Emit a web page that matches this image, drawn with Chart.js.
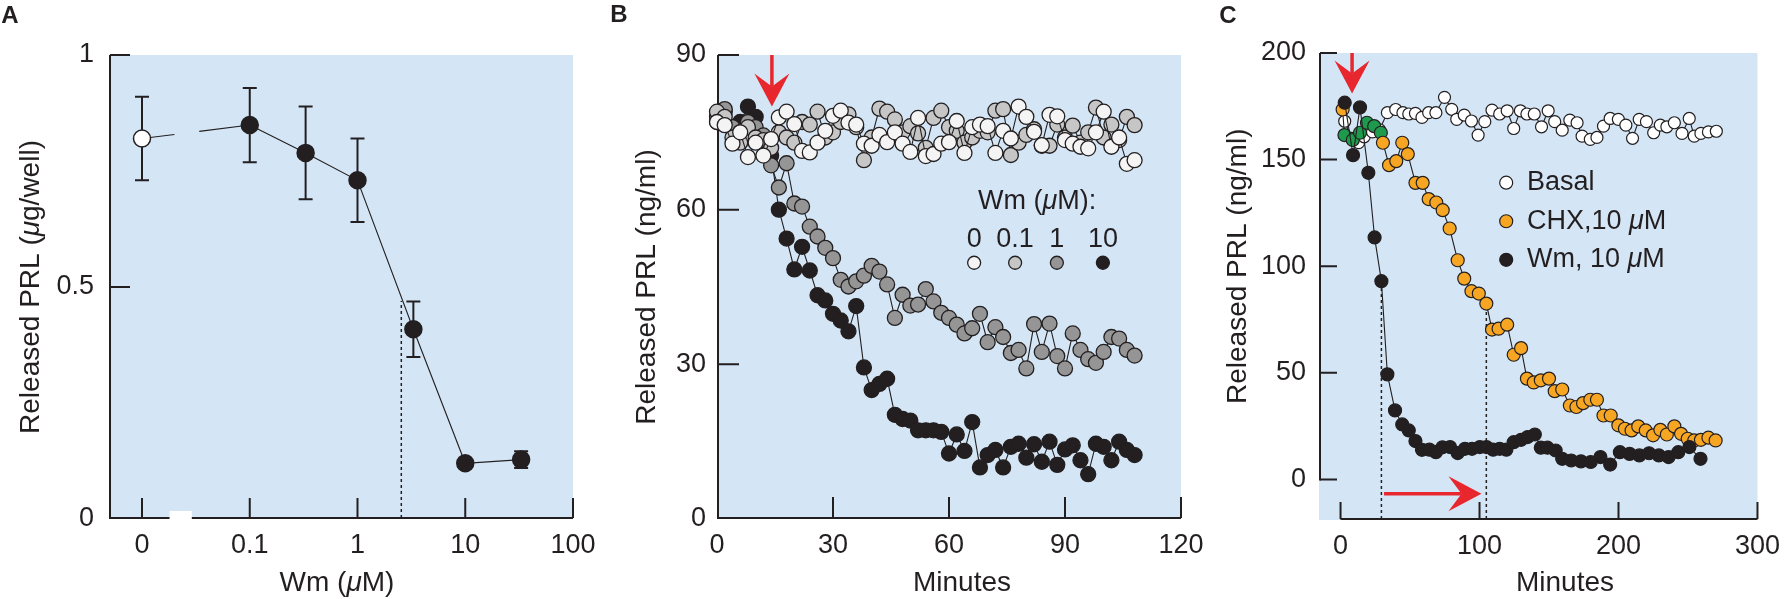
<!DOCTYPE html>
<html>
<head>
<meta charset="utf-8">
<script src="https://cdn.jsdelivr.net/npm/chart.js@4.4.1/dist/chart.umd.min.js"></script>
<style>
  html, body { margin: 0; padding: 0; background: #fff; }
  #wrap { position: relative; width: 1790px; height: 599px; }
  #wrap canvas { position: absolute; left: 0; top: 0; }
</style>
</head>
<body>
<div id="wrap">
  <canvas id="chart-a" width="1790" height="599"></canvas>
  <canvas id="chart-b" width="1790" height="599"></canvas>
  <canvas id="chart-c" width="1790" height="599"></canvas>
</div>
<script>
// --- Panel A: dose response (log axis, "0" dose sits one decade below 0.1) ---
const doseTicksA = [0.01, 0.1, 1, 10, 100];
const doseLabelsA = ['0', '0.1', '1', '10', '100'];
const ctrlDoseA = [0.01];
const ctrlPrlA = [0.82];
const ctrlErrA = [0.09];
const wmDoseA = [0.1, 0.33, 1, 3.3, 10, 33];
const wmPrlA = [0.849, 0.789, 0.73, 0.409, 0.12, 0.128];
const wmErrA = [0.08, 0.10, 0.09, 0.06, 0, 0.018];
const halfDoseA = [2.55];
const halfPrlA = [0.47];

// --- Panel B: time course, four Wm doses ---
const minutesB = [0, 2, 4, 6, 8, 10, 12, 14, 16, 18, 20, 22, 24, 26, 28, 30, 32, 34, 36, 38,
  40, 42, 44, 46, 48, 50, 52, 54, 56, 58, 60, 62, 64, 66, 68, 70, 72, 74, 76, 78,
  80, 82, 84, 86, 88, 90, 92, 94, 96, 98, 100, 102, 104, 106, 108];
const wm0B = [77, 76.4, 72.8, 75, 70.2, 73, 70.5, 73.7, 77.9, 79,
  76.6, 71.4, 71.1, 73, 75.3, 78.2, 79.2, 76.9, 76.5, 72.8,
  72.4, 74.5, 73.1, 75, 72.8, 71.2, 77.8, 70.4, 70.8, 72.8,
  73.1, 77.2, 71, 76, 76.5, 76.2, 71, 75.3, 73.8, 80,
  78, 75.1, 72.5, 78.4, 78.1, 73.5, 72.8, 72.2, 71.9, 75,
  79, 72.2, 74, 68.9, 69.6];
const wm01B = [79, 78, 74, 73, 76, 74, 73.5, 72, 75, 74,
  73, 77, 76.5, 79, 74, 75, 77, 78.5, 76, 69.6,
  74, 79.6, 79, 77.5, 75, 76.2, 74.8, 72, 77.8, 79.2,
  76, 75.3, 73, 74, 75.3, 75, 79.2, 79.5, 70.6, 73,
  74.5, 75.6, 72.4, 72.4, 76.5, 74, 76.3, 73, 75, 79.8,
  74, 76.5, 73.5, 78, 76.4];
const wm1B = [78, 79.5, 76, 75, 77, 76, 74.4, 68.6, 64.3, 69,
  61.2, 60.6, 56.7, 54.8, 52.6, 50.6, 46.4, 45.1, 46.1, 47.2,
  49.1, 48, 45.5, 39, 43.5, 41.4, 41.6, 44.6, 42.2, 40,
  39, 37.7, 36, 37, 39.8, 34.3, 37.2, 35.3, 32.2, 32.8,
  29.2, 37.8, 32.4, 37.9, 31.6, 29.2, 36, 32.8, 31, 30.3,
  32.4, 35.3, 35, 32.8, 31.7];
const wm10B = [77, 79, 76, 77, 80, 78, 74, 70.5, 60, 54.4,
  48.4, 52.8, 48.2, 43.4, 42.4, 39.8, 38.5, 36.4, 41.3, 29.4,
  25, 26.2, 27.2, 20.2, 19.4, 19.1, 17.2, 17.2, 17.2, 16.9,
  12.7, 16.4, 13.2, 18.8, 10, 12.4, 13.4, 10, 14, 14.6,
  11.9, 14.5, 11.1, 15, 10.5, 13.5, 14.3, 11.4, 8.7, 14.6,
  14, 11.4, 15, 13.4, 12.4];
const doseLabelsB = ['0', '0.1', '1', '10'];
const arrowMinB = 14.2;

// --- Panel C: basal vs CHX vs Wm ---
const basalMinC = [3, 8, 13, 17, 23, 28, 33.7, 39.7, 44.9, 49.1, 53.9, 58.6, 63.4, 68.6, 74.8,
  80, 83.6, 89, 94.2, 99, 103.8, 109, 114.5, 119.9, 124.6, 129.4, 134.1, 139.4, 144.6, 149.4,
  154.1, 159.5, 165, 170.2, 173.8, 179.7, 184.5, 189.2, 194, 199.9, 205.3, 210.1, 214.9, 220.1,
  225.3, 230.1, 234.8, 240.2, 245.7, 250.9, 254.5, 259.3, 264.7, 270.4];
const basalC = [168, 160, 158, 160.7, 163, 164, 172, 173.5, 172, 171.4, 171.7, 169.8, 172, 172, 179.2,
  173.6, 168.9, 170.9, 168.1, 161.5, 167.8, 173.2, 171.4, 172.9, 164.6, 172.9, 171.4, 171.4, 165.4, 172.9,
  167.8, 163.8, 168.5, 167.3, 161, 159.5, 160.4, 165.7, 169.3, 168.9, 166.2, 160, 168.9, 167.8,
  162.6, 166.2, 165.4, 167.3, 162.3, 169.3, 161, 162.3, 163, 163.3];
const chxMinC = [1.5, 2.8, 8.8, 14, 19, 24.2, 29, 30.5, 34.9, 40.1, 44.4, 48.4, 53.9, 59.1, 63.4,
  68.9, 73.5, 78.5, 84.3, 89, 94.2, 99.5, 104.9, 109, 113.7, 119.9, 124.6, 129.9, 134.1, 139,
  144.1, 150, 154.1, 159.5, 165, 169.7, 174.5, 179.7, 184.5, 189.2, 194.4, 199.9, 204.6, 209.4,
  214.2, 219.6, 224.9, 230.1, 234.8, 240.2, 245, 249.8, 254.5, 259.3, 264.7, 269.9];
const chxC = [173.5, 161.5, 159.2, 162.6, 167.3, 165.7, 162.6, 157.9, 147.4, 149.3, 157.9, 152.6, 139.1, 139.1, 131.5,
  129.9, 126.3, 117.7, 102.8, 94.2, 88.3, 87.2, 82.5, 70.3, 70.7, 72.6, 58.5, 61.6, 47.3, 45.5,
  46.5, 47.3, 41.4, 42.2, 34.7, 34, 35.8, 37.4, 37.4, 30, 30, 25.4, 23.8, 23,
  24.9, 23, 20.7, 23.3, 21.1, 24.9, 21.4, 19.1, 18.3, 18.6, 19.6, 18.3];
const chxPreIdxC = [1, 2, 3, 4, 5, 6];   // samples taken before the drug went on
const wmMinC = [3, 9, 14, 20, 24.5, 29.4, 33.7, 39.2, 44.4, 49.1, 53.9, 58.6, 63.9, 68.6, 73.3,
  78.8, 84.3, 89.5, 94.6, 100.2, 105, 109.8, 114.5, 119.3, 124.6, 129.9, 134.6, 139.8, 144.1, 148.9,
  154.8, 159.5, 166, 173, 180, 187, 194, 201, 208, 215, 222, 229, 236, 243, 251, 259];
const wmC = [176.7, 152.1, 174.5, 143.8, 113.5, 93, 49.3, 32.4, 25.8, 23, 18, 13.9, 14, 12.8, 15.1,
  15.2, 12.4, 14.4, 14.4, 15.2, 15.2, 14, 14.4, 14, 17.5, 18.6, 19.9, 21.1, 14.9, 14.9,
  13.6, 9.7, 8.9, 8.5, 8.2, 10.5, 7, 12.8, 12, 11.3, 12.3, 11.3, 10.5, 12.8, 15.2, 9.7];
const halfMinC = [29.4, 104.9];
const halfPrlC = [93, 82.5];
const legendNamesC = ['Basal', 'CHX,10 ', 'Wm, 10 '];

// --- look ---
const ink = '#231f20';
const panelBlue = '#d4e6f6';
const arrowRed = '#e8262d';
const fam = '"Liberation Sans", Arial, Helvetica, sans-serif';
Chart.defaults.font.family = fam;
Chart.defaults.color = ink;

const xy = (xs, ys) => xs.map((v, i) => ({ x: v, y: ys[i] }));

function richText(ctx, parts, x, y, size, opts = {}) {
  ctx.save();
  ctx.translate(x, y);
  if (opts.rotate) ctx.rotate(-Math.PI / 2);
  const fonts = parts.map(p => (p[1] ? 'italic ' : '') + (opts.bold ? 'bold ' : '') + size + 'px ' + fam);
  let total = 0;
  const widths = parts.map((p, i) => { ctx.font = fonts[i]; const w = ctx.measureText(p[0]).width; total += w; return w; });
  let cx = opts.left ? 0 : -total / 2;
  ctx.fillStyle = ink;
  ctx.textBaseline = 'middle';
  ctx.textAlign = 'left';
  parts.forEach((p, i) => { ctx.font = fonts[i]; ctx.fillText(p[0], cx, 0); cx += widths[i]; });
  ctx.restore();
}

function drawArrow(ctx, x0, y0, x1, y1) {
  const ang = Math.atan2(y1 - y0, x1 - x0), c = Math.cos(ang), s = Math.sin(ang);
  const head = 33, half = 17.5, notch = 20;
  ctx.save();
  ctx.strokeStyle = arrowRed;
  ctx.fillStyle = arrowRed;
  ctx.lineWidth = 3.5;
  ctx.beginPath();
  ctx.moveTo(x0, y0);
  ctx.lineTo(x1 - notch * c, y1 - notch * s);
  ctx.stroke();
  ctx.beginPath();
  ctx.moveTo(x1, y1);
  ctx.lineTo(x1 - head * c - half * s, y1 - head * s + half * c);
  ctx.lineTo(x1 - notch * c, y1 - notch * s);
  ctx.lineTo(x1 - head * c + half * s, y1 - head * s - half * c);
  ctx.closePath();
  ctx.fill();
  ctx.restore();
}

// background, range-frame axes, inward ticks, drop lines
function framePlugin(spec) {
  return {
    id: 'frame',
    beforeDraw(chart) {
      const { ctx, chartArea: a } = chart;
      ctx.save();
      ctx.fillStyle = panelBlue;
      ctx.fillRect(a.left, a.top, a.right - a.left, a.bottom - a.top);
      ctx.restore();
    },
    beforeDatasetsDraw(chart) {
      const { ctx, chartArea: a, scales: { x, y } } = chart;
      const ax = a.left + 1, ay = a.bottom - 1;
      ctx.save();
      ctx.strokeStyle = ink;
      ctx.lineWidth = 2;
      // y axis line
      ctx.beginPath();
      ctx.moveTo(ax, Math.min(ay + 1, y.getPixelForValue(spec.yLine[0]) + 1));
      ctx.lineTo(ax, y.getPixelForValue(spec.yLine[1]));
      ctx.stroke();
      // x axis line, maybe broken
      const xa = Math.max(a.left, x.getPixelForValue(spec.xLine[0]));
      const xb = x.getPixelForValue(spec.xLine[1]);
      ctx.beginPath();
      if (spec.xBreak) {
        const g0 = x.getPixelForValue(spec.xBreak[0]), g1 = x.getPixelForValue(spec.xBreak[1]);
        ctx.fillStyle = '#ffffff';
        ctx.fillRect(g0, ay - 7, g1 - g0, 10);
        ctx.moveTo(xa, ay); ctx.lineTo(g0, ay);
        ctx.moveTo(g1, ay); ctx.lineTo(xb, ay);
      } else {
        ctx.moveTo(xa, ay); ctx.lineTo(xb, ay);
      }
      ctx.stroke();
      // inward ticks
      ctx.beginPath();
      spec.xTicks.forEach(v => { const px = x.getPixelForValue(v); ctx.moveTo(px, ay); ctx.lineTo(px, ay - spec.tickLen); });
      spec.yTicks.forEach(v => { const py = y.getPixelForValue(v); ctx.moveTo(ax, py); ctx.lineTo(ax + spec.tickLen, py); });
      ctx.stroke();
      // dotted drop lines
      ctx.setLineDash([3, 3]);
      ctx.lineWidth = 1.5;
      ctx.beginPath();
      (spec.dropX || []).forEach((v, i) => {
        const px = x.getPixelForValue(v);
        ctx.moveTo(px, ay);
        ctx.lineTo(px, y.getPixelForValue(spec.dropY[i]));
      });
      ctx.stroke();
      ctx.setLineDash([]);
      if (spec.under) spec.under(chart);
      ctx.restore();
    },
    afterDraw(chart) {
      if (spec.over) spec.over(chart);
    }
  };
}

function baseOptions(pad, yWidth, xHeight, xScale, yScale) {
  return {
    responsive: false,
    animation: false,
    devicePixelRatio: 1,
    events: [],
    layout: { padding: pad },
    plugins: { legend: { display: false }, tooltip: { enabled: false } },
    scales: {
      x: Object.assign({
        grid: { display: false, drawTicks: false },
        border: { display: false },
        afterFit: s => { s.height = xHeight; }
      }, xScale),
      y: Object.assign({
        grid: { display: false, drawTicks: false },
        border: { display: false },
        afterFit: s => { s.width = yWidth; }
      }, yScale)
    }
  };
}

const tickFont = { size: 27 };
const titleSize = 28;
const lineStyle = { showLine: true, borderColor: ink, borderWidth: 1.1, pointBorderColor: ink, clip: false };

// ---------------- Panel A ----------------
new Chart(document.getElementById('chart-a'), {
  type: 'scatter',
  data: {
    datasets: [
      Object.assign({}, lineStyle, { data: xy(ctrlDoseA, ctrlPrlA), showLine: false, pointRadius: 8.5, pointBorderWidth: 1.5, pointBackgroundColor: '#ffffff' }),
      Object.assign({}, lineStyle, { data: xy(wmDoseA, wmPrlA), pointRadius: 8.5, pointBorderWidth: 1.5, pointBackgroundColor: ink })
    ]
  },
  options: baseOptions({ left: 0, right: 1217, top: 55, bottom: 0 }, 109, 80,
    {
      type: 'logarithmic', min: 0.00494, max: 100,
      afterBuildTicks: s => { s.ticks = doseTicksA.map(v => ({ value: v })); },
      ticks: { font: tickFont, padding: 10, autoSkip: false, maxRotation: 0, callback: (v, i) => doseLabelsA[i] }
    },
    {
      min: 0, max: 1,
      afterBuildTicks: s => { s.ticks = [0, 0.5, 1].map(v => ({ value: v })); },
      ticks: { font: tickFont, padding: 15, callback: v => String(v) }
    }),
  plugins: [framePlugin({
    xLine: [0.001, 100], yLine: [0, 1], xBreak: [0.018, 0.029],
    xTicks: doseTicksA, yTicks: [0.5, 1], tickLen: 20,
    dropX: halfDoseA, dropY: halfPrlA,
    under(chart) {
      const { ctx, scales: { x, y } } = chart;
      ctx.strokeStyle = ink;
      ctx.lineWidth = 2;
      const bars = (xs, ys, es) => xs.forEach((v, i) => {
        if (!es[i]) return;
        const px = x.getPixelForValue(v), t = y.getPixelForValue(ys[i] + es[i]), b = y.getPixelForValue(ys[i] - es[i]);
        ctx.beginPath();
        ctx.moveTo(px, t); ctx.lineTo(px, b);
        ctx.moveTo(px - 7, t); ctx.lineTo(px + 7, t);
        ctx.moveTo(px - 7, b); ctx.lineTo(px + 7, b);
        ctx.stroke();
      });
      bars(ctrlDoseA, ctrlPrlA, ctrlErrA);
      bars(wmDoseA, wmPrlA, wmErrA);
      // broken connector from the "0" dose to the first Wm dose
      const p0x = x.getPixelForValue(ctrlDoseA[0]), p0y = y.getPixelForValue(ctrlPrlA[0]);
      const p1x = x.getPixelForValue(wmDoseA[0]), p1y = y.getPixelForValue(wmPrlA[0]);
      const at = px => p0y + (p1y - p0y) * (px - p0x) / (p1x - p0x);
      const g0 = x.getPixelForValue(0.02), g1 = x.getPixelForValue(0.034);
      ctx.lineWidth = 1.1;
      ctx.beginPath();
      ctx.moveTo(p0x, p0y); ctx.lineTo(g0, at(g0));
      ctx.moveTo(g1, at(g1)); ctx.lineTo(p1x, p1y);
      ctx.stroke();
    },
    over(chart) {
      const { ctx, chartArea: a } = chart;
      richText(ctx, [['A', false]], 10, 16, 24, { bold: true });
      richText(ctx, [['Released PRL (', false], ['\u03bc', true], ['g/well)', false]], 31, (a.top + a.bottom) / 2, titleSize, { rotate: true });
      richText(ctx, [['Wm (', false], ['\u03bc', true], ['M)', false]], 337, 583, titleSize);
    }
  })]
});

// ---------------- Panel B ----------------
const grayB = ['#f4f4f4', '#c6c6c6', '#959595', ink];
const seriesB = [wm0B, wm01B, wm1B, wm10B];
new Chart(document.getElementById('chart-b'), {
  type: 'scatter',
  data: {
    datasets: seriesB.map((vals, k) => Object.assign({}, lineStyle, {
      data: xy(minutesB, vals), pointRadius: 7.5, pointBorderWidth: 1.3, pointBackgroundColor: grayB[k]
    }))
  },
  options: baseOptions({ left: 600, right: 609, top: 55, bottom: 0 }, 117, 80,
    { min: 0, max: 120, ticks: { font: tickFont, padding: 10, stepSize: 30, maxRotation: 0 } },
    { min: 0, max: 90, ticks: { font: tickFont, padding: 11, stepSize: 30 } }),
  plugins: [framePlugin({
    xLine: [0, 120], yLine: [0, 90],
    xTicks: [30, 60, 90, 120], yTicks: [30, 60, 90], tickLen: 21,
    over(chart) {
      const { ctx, chartArea: a, scales: { x, y } } = chart;
      drawArrow(ctx, x.getPixelForValue(arrowMinB), y.getPixelForValue(90), x.getPixelForValue(arrowMinB), y.getPixelForValue(80));
      richText(ctx, [['Wm (', false], ['\u03bc', true], ['M):', false]], x.getPixelForValue(82.8), y.getPixelForValue(61.5), 27);
      const keyX = [66.5, 77.1, 87.9, 99.8];
      doseLabelsB.forEach((lab, k) => {
        const px = x.getPixelForValue(keyX[k]);
        richText(ctx, [[lab, false]], px, y.getPixelForValue(54.2), 27);
        ctx.save();
        ctx.beginPath();
        ctx.arc(px, y.getPixelForValue(49.7), 6.5, 0, Math.PI * 2);
        ctx.fillStyle = grayB[k];
        ctx.fill();
        ctx.lineWidth = 1.3;
        ctx.strokeStyle = ink;
        ctx.stroke();
        ctx.restore();
      });
      richText(ctx, [['B', false]], 619, 15, 24, { bold: true });
      richText(ctx, [['Released PRL (ng/ml)', false]], 647, (a.top + a.bottom) / 2, titleSize, { rotate: true });
      richText(ctx, [['Minutes', false]], 962, 583, titleSize);
    }
  })]
});

// ---------------- Panel C ----------------
const orangeC = '#f6a623';
const greenC = '#1e9a4c';
new Chart(document.getElementById('chart-c'), {
  type: 'scatter',
  data: {
    datasets: [
      Object.assign({}, lineStyle, { data: xy(wmMinC, wmC), pointRadius: 6.5, pointBorderWidth: 1.2, pointBackgroundColor: ink }),
      Object.assign({}, lineStyle, {
        data: xy(chxMinC, chxC), pointRadius: 6.5, pointBorderWidth: 1.2,
        pointBackgroundColor: chxMinC.map((m, i) => chxPreIdxC.includes(i) ? greenC : orangeC)
      }),
      Object.assign({}, lineStyle, { data: xy(basalMinC, basalC), pointRadius: 6, pointBorderWidth: 1.2, pointBackgroundColor: '#ffffff' })
    ]
  },
  options: baseOptions({ left: 1200, right: 28, top: 53, bottom: 0 }, 119, 79,
    {
      min: -15.5, max: 300,
      afterBuildTicks: s => { s.ticks = [0, 100, 200, 300].map(v => ({ value: v })); },
      ticks: { font: tickFont, padding: 10, maxRotation: 0 }
    },
    {
      min: -19, max: 200,
      afterBuildTicks: s => { s.ticks = [0, 50, 100, 150, 200].map(v => ({ value: v })); },
      ticks: { font: tickFont, padding: 13 }
    }),
  plugins: [framePlugin({
    xLine: [0, 300], yLine: [0, 200],
    xTicks: [0, 100, 200, 300], yTicks: [0, 50, 100, 150, 200], tickLen: 17,
    dropX: halfMinC, dropY: halfPrlC,
    over(chart) {
      const { ctx, chartArea: a, scales: { x, y } } = chart;
      drawArrow(ctx, x.getPixelForValue(8.3), y.getPixelForValue(200), x.getPixelForValue(8.3), y.getPixelForValue(181));
      drawArrow(ctx, x.getPixelForValue(31.3), y.getPixelForValue(-6.7), x.getPixelForValue(101.4), y.getPixelForValue(-6.7));
      const keyFill = ['#ffffff', orangeC, ink];
      const rows = [[[legendNamesC[0], false]],
        [[legendNamesC[1], false], ['\u03bc', true], ['M', false]],
        [[legendNamesC[2], false], ['\u03bc', true], ['M', false]]];
      rows.forEach((parts, k) => {
        const py = y.getPixelForValue(139.2 - 18.1 * k);
        ctx.save();
        ctx.beginPath();
        ctx.arc(x.getPixelForValue(119.2), py, 6.5, 0, Math.PI * 2);
        ctx.fillStyle = keyFill[k];
        ctx.fill();
        ctx.lineWidth = 1.2;
        ctx.strokeStyle = ink;
        ctx.stroke();
        ctx.restore();
        richText(ctx, parts, x.getPixelForValue(134.1), py, 27, { left: true });
      });
      richText(ctx, [['C', false]], 1228, 16, 24, { bold: true });
      richText(ctx, [['Released PRL (ng/ml)', false]], 1238, (y.getPixelForValue(0) + y.getPixelForValue(200)) / 2, titleSize, { rotate: true });
      richText(ctx, [['Minutes', false]], 1565, 583, titleSize);
    }
  })]
});
</script>
</body>
</html>
